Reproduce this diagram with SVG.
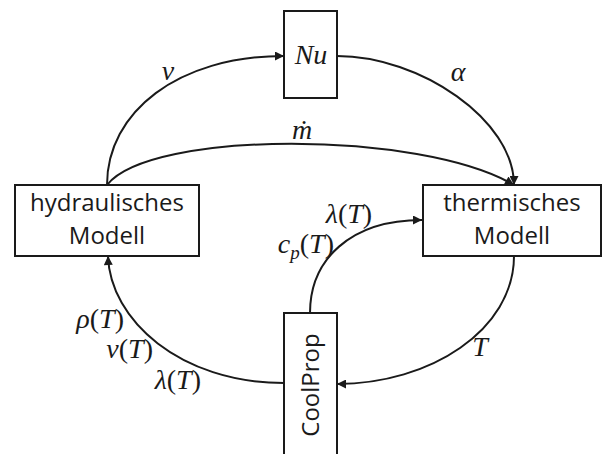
<svg xmlns="http://www.w3.org/2000/svg" width="606" height="454" viewBox="0 0 606 454">
<defs>
<style>
.box{fill:#fff;stroke:#1a1a1a;stroke-width:2}
.lbl{font-family:"Open Sans","Noto Sans",sans-serif;font-size:24px;fill:#1a1a1a;text-anchor:middle}
.m{font-family:"Liberation Serif","DejaVu Serif",serif;font-style:italic;font-size:28px;fill:#1a1a1a}
.up{font-style:normal}
.c{fill:none;stroke:#1a1a1a;stroke-width:2}
</style>
<marker id="ah" viewBox="0 0 10 10" refX="10" refY="5" markerWidth="11" markerHeight="9" markerUnits="userSpaceOnUse" orient="auto">
<path d="M0,0 L10,5 L0,10 Z" fill="#1a1a1a"/>
</marker>
</defs>
<rect width="606" height="454" fill="#fff"/>
<g id="connectors">
<path class="c" d="M107,185 C107,112 178,56 284,56" marker-end="url(#ah)"/>
<path class="c" d="M337,56 C420,56 514,120 514,185" marker-end="url(#ah)"/>
<path class="c" d="M107,185 C150,130 420,130 514,185" marker-end="url(#ah)"/>
<path class="c" d="M284,383 C180,383 110,320 108,256" marker-end="url(#ah)"/>
<path class="c" d="M514,256 C514,330 430,384 337,384" marker-end="url(#ah)"/>
<path class="c" d="M310,313 C310,260 350,220 422,220" marker-end="url(#ah)"/>
<text class="m" x="168" y="80" text-anchor="middle">v</text>
<text class="m" x="458" y="81" text-anchor="middle">α</text>
<text class="m" x="302" y="139" text-anchor="middle">ṁ</text>
<text class="m" x="349" y="223" text-anchor="middle">λ<tspan class="up">(</tspan>T<tspan class="up">)</tspan></text>
<text class="m" x="334" y="253" text-anchor="end">c<tspan font-size="19" dy="6">p</tspan><tspan class="up" dy="-6">(</tspan>T<tspan class="up">)</tspan></text>
<text class="m" x="124" y="328" text-anchor="end">ρ<tspan class="up">(</tspan>T<tspan class="up">)</tspan></text>
<text class="m" x="153" y="358" text-anchor="end">ν<tspan class="up">(</tspan>T<tspan class="up">)</tspan></text>
<text class="m" x="201" y="389" text-anchor="end">λ<tspan class="up">(</tspan>T<tspan class="up">)</tspan></text>
<text class="m" x="480" y="356" text-anchor="middle">T</text>
</g>
<g id="nu">
<rect class="box" x="284" y="11" width="53" height="87"/>
<text class="m" x="311" y="64" text-anchor="middle">Nu</text>
</g>
<g id="hydraulisches">
<rect class="box" x="15" y="185" width="184" height="71"/>
<text class="lbl" x="107" y="211">hydraulisches</text>
<text class="lbl" x="107" y="244">Modell</text>
</g>
<g id="thermisches">
<rect class="box" x="423" y="185" width="178" height="71"/>
<text class="lbl" x="512" y="211">thermisches</text>
<text class="lbl" x="512" y="244">Modell</text>
</g>
<g id="coolprop">
<path class="box" d="M284,460 L284,313 L337,313 L337,460"/>
<text class="lbl" transform="translate(319,385) rotate(-90)">CoolProp</text>
</g>
</svg>
